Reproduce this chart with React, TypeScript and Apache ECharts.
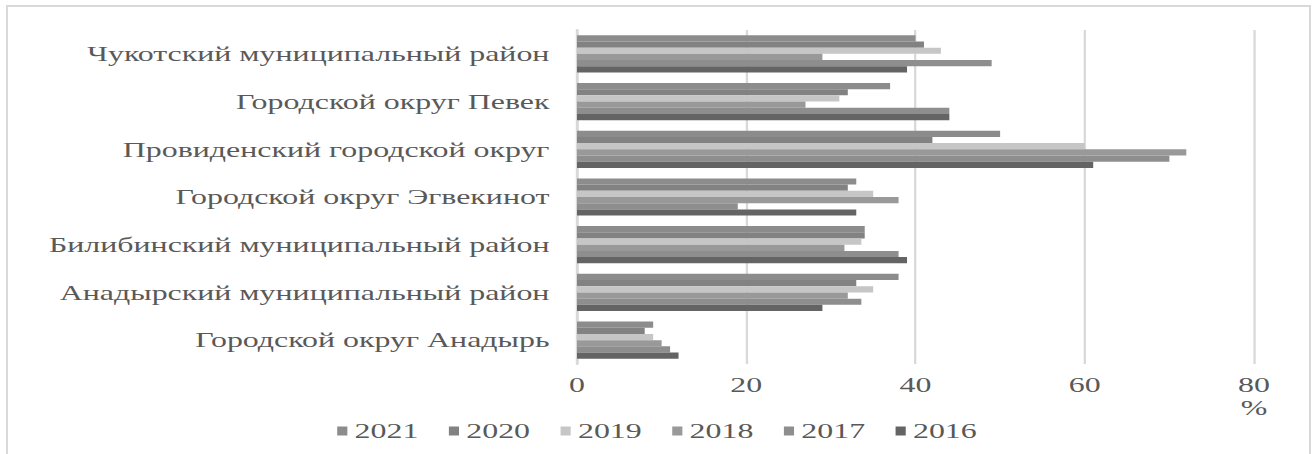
import React, { useEffect, useRef } from "react";
import * as echarts from "echarts";

// categories listed bottom-to-top (ECharts category axis order)
const categories = [
  "Городской округ Анадырь",
  "Анадырский муниципальный район",
  "Билибинский муниципальный район",
  "Городской округ Эгвекинот",
  "Провиденский городской округ",
  "Городской округ Певек",
  "Чукотский муниципальный район",
];

const years = ["2021", "2020", "2019", "2018", "2017", "2016"];

const v2021 = [9, 38, 34, 33, 50, 37, 40];
const v2020 = [8, 33, 34, 32, 42, 32, 41];
const v2019 = [9, 35, 33.6, 35, 60, 31, 43];
const v2018 = [10, 32, 31.6, 38, 72, 27, 29];
const v2017 = [11, 33.6, 38, 19, 70, 44, 49];
const v2016 = [12, 29, 39, 33, 61, 44, 39];

const xTicks = [0, 20, 40, 60, 80];

const colors: Record<string, string> = {
  "2021": "#8c8c8c",
  "2020": "#828282",
  "2019": "#c6c6c6",
  "2018": "#999999",
  "2017": "#8e8e8e",
  "2016": "#646464",
};

const W = 1314;
const H = 454;
const S = 1.45; // horizontal stretch of the reference picture
const CW = Math.round(W / S);
const SX = W / CW;

export default function App() {
  const ref = useRef<HTMLDivElement>(null);
  useEffect(() => {
    if (!ref.current) return;
    const chart = echarts.init(ref.current, undefined, { renderer: "svg" });
    const font = "'Liberation Serif', 'Times New Roman', serif";
    const valuesByYear: Record<string, number[]> = {
      "2021": v2021,
      "2020": v2020,
      "2019": v2019,
      "2018": v2018,
      "2017": v2017,
      "2016": v2016,
    };
    chart.setOption({
      animation: false,
      textStyle: { fontFamily: font },
      grid: {
        left: 577 / SX,
        right: CW - 1254 / SX,
        top: 30,
        bottom: H - 364,
        containLabel: false,
      },
      legend: {
        data: years,
        bottom: 7,
        left: "center",
        itemWidth: 7,
        itemHeight: 9,
        itemGap: 21,
        icon: "rect",
        textStyle: { fontFamily: font, fontSize: 22, color: "#595959" },
      },
      xAxis: {
        type: "value",
        min: xTicks[0],
        max: xTicks[xTicks.length - 1],
        interval: 20,
        axisLine: { show: false },
        axisTick: { show: false },
        splitLine: { show: true, lineStyle: { color: "#d9d9d9", width: 1.6 } },
        axisLabel: { fontFamily: font, fontSize: 22, color: "#595959", margin: 10 },
        name: "%",
        nameLocation: "end",
        nameGap: 0,
        nameTextStyle: {
          fontFamily: font,
          fontSize: 22,
          color: "#595959",
          align: "center",
          verticalAlign: "top",
          padding: [33, 0, 0, 0],
        },
      },
      yAxis: {
        type: "category",
        data: categories,
        axisTick: { show: false },
        axisLine: { show: true, lineStyle: { color: "#d9d9d9", width: 2 } },
        axisLabel: { fontFamily: font, fontSize: 22, color: "#595959", margin: 19 },
      },
      series: years.map((y) => ({
        name: y,
        type: "bar",
        data: valuesByYear[y],
        barGap: "0%",
        barCategoryGap: "22%",
        itemStyle: { color: colors[y] },
      })),
    });
    return () => chart.dispose();
  }, []);

  return (
    <div style={{ position: "absolute", left: 0, top: 0, width: W, height: H, overflow: "hidden", background: "#fff" }}>
      <div
        style={{
          position: "absolute",
          left: 6,
          top: 5,
          width: 1301,
          height: 480,
          border: "2px solid #d9d9d9",
        }}
      />
      <div
        ref={ref}
        style={{
          position: "absolute",
          left: 0,
          top: 0,
          width: CW,
          height: H,
          transform: `scaleX(${SX})`,
          transformOrigin: "0 0",
        }}
      />
    </div>
  );
}
